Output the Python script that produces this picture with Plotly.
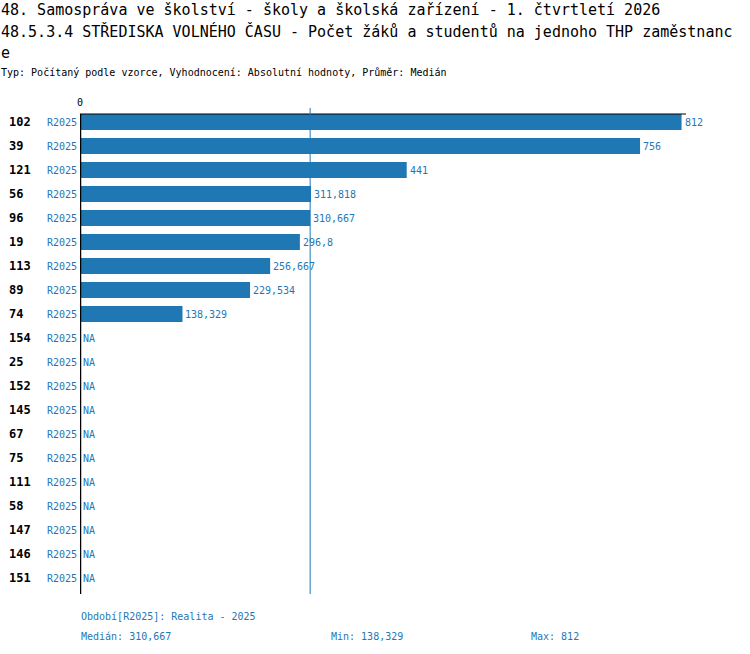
import plotly.graph_objects as go

# data
categories = ["102", "39", "121", "56", "96", "19", "113", "89", "74", "154",
              "25", "152", "145", "67", "75", "111", "58", "147", "146", "151"]
values = [812, 756, 441, 311.818, 310.667, 296.8, 256.667, 229.534, 138.329,
          None, None, None, None, None, None, None, None, None, None, None]
period = "R2025"
period_desc = "Realita - 2025"

title1 = "48. Samospráva ve školství - školy a školská zařízení - 1. čtvrtletí 2026"
title2 = "48.5.3.4 STŘEDISKA VOLNÉHO ČASU - Počet žáků a studentů na jednoho THP zaměstnanc"
title3 = "e"
subtitle = "Typ: Počítaný podle vzorce, Vyhodnocení: Absolutní hodnoty, Průměr: Medián"

BLUE = "#1f77b4"
MONO = "DejaVu Sans Mono"


def fmt(v):
    if v is None:
        return "NA"
    return f"{v:g}".replace(".", ",")


known = sorted(v for v in values if v is not None)
median = known[len(known) // 2]
vmin = known[0]
vmax = known[-1]

W, H = 750, 654
L, R, T, B = 80, 64, 110, 64
pw = W - L - R
ph = H - T - B


def px(x):
    return (x - L) / pw


def py(y):
    return (H - B - y) / ph


fig = go.Figure()
fig.add_trace(go.Bar(
    x=[v if v is not None else 0 for v in values],
    y=categories,
    orientation="h",
    marker=dict(color=BLUE, line=dict(width=0)),
    width=0.66,
    hoverinfo="skip",
))

ann = []
# on a category axis annotations take the category's serial number
for i, (c, v) in enumerate(zip(categories, values)):
    ann.append(dict(x=px(7), y=i, xref="paper", yref="y", text="<b>" + c + "</b>",
                    showarrow=False, xanchor="left", yanchor="middle",
                    font=dict(family=MONO, size=12, color="black")))
    ann.append(dict(x=px(79), y=i, xref="paper", yref="y", text=period,
                    showarrow=False, xanchor="right", yanchor="middle",
                    font=dict(family=MONO, size=10, color=BLUE)))
    ann.append(dict(x=v if v is not None else 0, y=i, xref="x", yref="y", text=fmt(v),
                    showarrow=False, xanchor="left", yanchor="middle", xshift=1,
                    font=dict(family=MONO, size=10, color=BLUE)))

# titles
for txt, yy, size in [(title1, 10, 15), (title2, 32, 15), (title3, 53, 15), (subtitle, 73, 10)]:
    ann.append(dict(x=px(-1), y=py(yy), xref="paper", yref="paper", text=txt,
                    showarrow=False, xanchor="left", yanchor="middle",
                    font=dict(family=MONO, size=size, color="black")))

ann.append(dict(x=0, y=py(103), xref="x", yref="paper", text="0", showarrow=False,
                xanchor="center", yanchor="middle", font=dict(family=MONO, size=10, color="black")))

# footer
ann.append(dict(x=px(79), y=py(616), xref="paper", yref="paper",
                text=f"Období[{period}]: {period_desc}", showarrow=False,
                xanchor="left", yanchor="middle", font=dict(family=MONO, size=10, color=BLUE)))
for txt, xx in [(f"Medián: {fmt(median)}", 79), (f"Min: {fmt(vmin)}", 329), (f"Max: {fmt(vmax)}", 529)]:
    ann.append(dict(x=px(xx), y=py(636), xref="paper", yref="paper", text=txt, showarrow=False,
                    xanchor="left", yanchor="middle", font=dict(family=MONO, size=10, color=BLUE)))

shapes = [
    # top axis line
    dict(type="line", xref="paper", yref="paper", x0=0, x1=1, y0=py(114), y1=py(114),
         line=dict(color="black", width=1)),
    # left axis line
    dict(type="line", xref="x", yref="paper", x0=0, x1=0, y0=py(114), y1=py(594),
         line=dict(color="black", width=2.5)),
    # median line
    dict(type="line", xref="x", yref="paper", x0=median, x1=median, y0=py(108), y1=py(594),
         line=dict(color=BLUE, width=1)),
]

fig.update_layout(
    width=W, height=H,
    margin=dict(l=L, r=R, t=T, b=B),
    paper_bgcolor="white", plot_bgcolor="white",
    showlegend=False,
    annotations=ann,
    shapes=shapes,
    xaxis=dict(range=[0, 818], showgrid=False, zeroline=False, showticklabels=False, fixedrange=True),
    yaxis=dict(type="category", categoryorder="array", categoryarray=categories,
               range=[len(categories) - 0.5, -0.5], showgrid=False, zeroline=False,
               showticklabels=False, fixedrange=True),
)

fig.write_html("out.html", config={"displayModeBar": False},
               post_script="document.body.style.margin='0';")
